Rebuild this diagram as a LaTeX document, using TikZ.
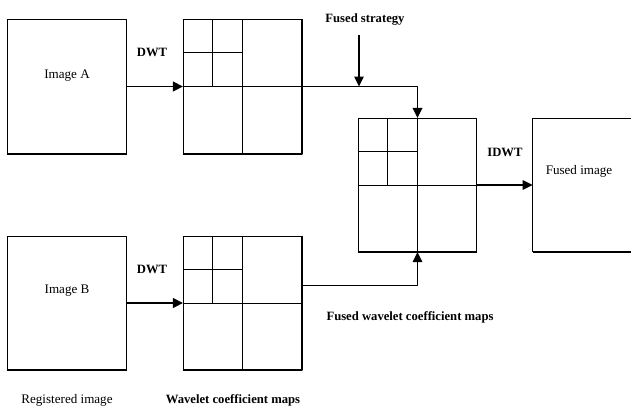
\documentclass[tikz,border=0pt]{standalone}
\usepackage{fontspec}
\setmainfont{Liberation Serif}
\usetikzlibrary{arrows.meta, calc}
\tikzstyle{box} = [draw, line width=0.7pt, minimum width=2.95cm, minimum height=3.33cm, inner sep=0pt]
\tikzstyle{arrow} = [line width=1.3pt, -{Triangle[length=2.5mm, width=2.4mm]}]
\tikzstyle{thinarrow} = [line width=0.9pt, -{Triangle[length=2.5mm, width=2.4mm]}]
\tikzstyle{lbl} = [font=\fontsize{9.3}{11}\selectfont, inner sep=0pt]
\tikzstyle{blbl} = [font=\fontsize{9}{11}\selectfont\bfseries, inner sep=0pt]
\begin{document}
\begin{tikzpicture}[x=0.025cm, y=-0.025cm, line join=round]
    \useasboundingbox (0,0) rectangle (631,409);

    % Boxes: source images, coefficient maps, fused map, result
    \node[box] (imgA)  at (67,86.5)  {};
    \node[box] (imgB)  at (67,303)   {};
    \node[box] (mapA)  at (242.5,86.5) {};
    \node[box] (mapB)  at (242.5,303)  {};
    \node[box] (fused) at (417.5,185) {};
    \node[minimum width=2.45cm, minimum height=3.33cm, inner sep=0pt] (fimg) at (582,185) {};
    \draw[line width=0.7pt] (fimg.north east) -- (fimg.north west) -- (fimg.south west) -- (fimg.south east);

    % Heavier bottom / right edges
    \foreach \m in {imgA, imgB, fused, fimg}
      \draw[line width=1.5pt] (\m.south west) -- (\m.south east);
    \foreach \m in {mapA, mapB}
      \draw[line width=1.5pt] (\m.south west) -- (\m.south east) -- (\m.north east);

    % Sub-bands of each map
    \foreach \m in {mapA, mapB, fused}{
      \draw[line width=0.7pt] (\m.north) -- (\m.south);
      \draw[line width=0.7pt] (\m.west) -- (\m.east);
      \draw[line width=0.7pt] ($(\m.north west)!0.5!(\m.north)$) -- ($(\m.west)!0.5!(\m.center)$);
      \draw[line width=0.7pt] ($(\m.north west)!0.25!(\m.south west)$) -- ($(\m.north)!0.25!(\m.south)$);
    }

    % Connectors
    \draw[arrow] (imgA.east) -- (mapA.west);
    \draw[arrow] (imgB.east) -- (mapB.west);
    \draw[arrow] (mapA.east) -| (fused.north);
    \coordinate (outB) at ($(mapB.north east)!0.37!(mapB.south east)$);
    \draw[thinarrow] (outB) -| (fused.south);
    \draw[thinarrow] (fused.east) -- (fimg.west);
    \node[blbl] (strat) at (365,20) {Fused strategy};
    \coordinate (stratTop) at (359,35);
    \draw[thinarrow] (stratTop) -- (stratTop |- mapA.east);

    % Labels
    \node[lbl]  (labA)  at (67,76)   {Image A};
    \node[lbl]  (labB)  at (67,291)  {Image B};
    \node[blbl] (dwtA)  at (152,52)  {DWT};
    \node[blbl] (dwtB)  at (152,269) {DWT};
    \node[blbl] (idwt)  at (505,152) {IDWT};
    \node[lbl]  (labF)  at (579,171) {Fused image};
    \node[blbl] (fmaps) at (410,317) {Fused wavelet coefficient maps};
    \node[lbl]  (reg)   at (67,400)  {Registered image};
    \node[blbl] (wmaps) at (233,400) {Wavelet coefficient maps};
  \end{tikzpicture}
\end{document}
